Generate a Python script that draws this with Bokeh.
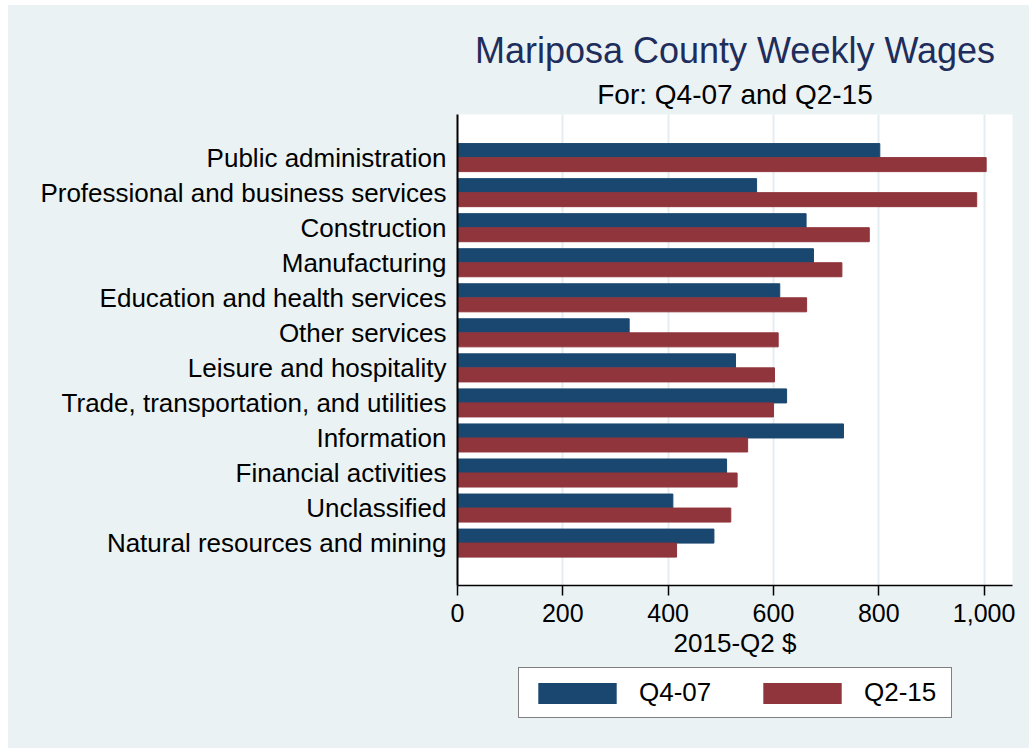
from bokeh.plotting import figure
from bokeh.layouts import column
from bokeh.models import (ColumnDataSource, Range1d, FixedTicker, NumeralTickFormatter,
                          Legend, LegendItem, Title)
from bokeh.embed import file_html
from bokeh.resources import INLINE

# ---- data ----
categories = ["Public administration", "Professional and business services", "Construction",
              "Manufacturing", "Education and health services", "Other services",
              "Leisure and hospitality", "Trade, transportation, and utilities", "Information",
              "Financial activities", "Unclassified", "Natural resources and mining"]
q4_07 = [802, 568, 662, 676, 612, 326, 528, 625, 733, 511, 409, 487]
q2_15 = [1004, 986, 782, 730, 663, 609, 602, 600, 551, 531, 519, 416]
series_names = ["Q4-07", "Q2-15"]
x_ticks = [0, 200, 400, 600, 800, 1000]

title_text = "Mariposa County Weekly Wages"
subtitle_text = "For: Q4-07 and Q2-15"
x_label = "2015-Q2 $"

BG = "#EAF2F3"
BLUE = "#1A476F"
RED = "#90353B"
FONT = "Liberation Sans"

n = len(categories)
pos = [n - 1 - i for i in range(n)]
src = ColumnDataSource(dict(
    cat=categories,
    y4=[p + 0.2 for p in pos],
    y2=[p - 0.2 for p in pos],
    q4=q4_07,
    q2=q2_15,
))

p = figure(width=1021, height=660, output_backend="svg", toolbar_location=None,
           x_range=Range1d(0, 1054), y_range=Range1d(-1.21, n - 1 + 1.23),
           min_border_left=449, min_border_right=17, min_border_top=109,
           min_border_bottom=80)
p.background_fill_color = "white"
p.border_fill_color = BG
p.outline_line_color = None

p.hbar(y="y4", right="q4", left=0, height=0.4, source=src,
       fill_color=BLUE, line_color=BLUE)
p.hbar(y="y2", right="q2", left=0, height=0.4, source=src,
       fill_color=RED, line_color=RED)

# x axis
xa = p.xaxis[0]
xa.ticker = FixedTicker(ticks=x_ticks)
xa.formatter = NumeralTickFormatter(format="0,0")
xa.axis_label = x_label
xa.axis_label_text_font = FONT
xa.axis_label_text_font_size = "26px"
xa.axis_label_text_font_style = "normal"
xa.axis_label_text_color = "black"
xa.axis_label_standoff = 3
xa.major_label_text_font = FONT
xa.major_label_text_font_size = "25px"
xa.major_label_text_color = "black"
xa.major_label_standoff = 8
xa.axis_line_color = "black"
xa.axis_line_width = 1.5
xa.major_tick_line_color = "black"
xa.major_tick_line_width = 1.5
xa.major_tick_out = 10
xa.major_tick_in = 0
xa.minor_tick_line_color = None

# y axis
ya = p.yaxis[0]
ya.ticker = FixedTicker(ticks=pos)
ya.major_label_overrides = {pp: c for pp, c in zip(pos, categories)}
ya.major_label_text_font = FONT
ya.major_label_text_font_size = "26px"
ya.major_label_text_color = "black"
ya.major_label_standoff = 5
ya.axis_line_color = "black"
ya.axis_line_width = 2
ya.major_tick_line_color = None
ya.minor_tick_line_color = None

p.xgrid.ticker = FixedTicker(ticks=x_ticks[1:])
p.xgrid.grid_line_color = "#E4EDF0"
p.xgrid.grid_line_width = 2
p.ygrid.grid_line_color = None

# titles (first added sits nearest the frame)
p.add_layout(Title(text=subtitle_text, align="center", text_font=FONT,
                   text_font_size="28px", text_font_style="normal",
                   text_color="black", standoff=9), "above")
p.add_layout(Title(text=title_text, align="center", text_font=FONT,
                   text_font_size="36px", text_font_style="normal",
                   text_color="#1F2D5C", standoff=3), "above")

# legend strip (its frame is aligned with the main frame by the column layout);
# its renderers share the data but lie far outside its visible range
lf = figure(width=1021, height=83, output_backend="svg", toolbar_location=None,
            x_range=Range1d(0, 1054), y_range=Range1d(100, 101),
            x_axis_type=None, y_axis_type=None,
            min_border_left=0, min_border_right=0, min_border_top=0, min_border_bottom=0)
lf.background_fill_color = BG
lf.border_fill_color = BG
lf.outline_line_color = None
lf.xgrid.grid_line_color = None
lf.ygrid.grid_line_color = None
k4 = lf.hbar(y="y4", right="q4", left=0, height=0.4, source=src,
             fill_color=BLUE, line_color=None)
k2 = lf.hbar(y="y2", right="q2", left=0, height=0.4, source=src,
             fill_color=RED, line_color=None)

legend = Legend(items=[LegendItem(label=series_names[0], renderers=[k4], index=0),
                       LegendItem(label=series_names[1], renderers=[k2], index=0)],
                orientation="horizontal", location=(61, 30),
                glyph_width=98, glyph_height=26, label_standoff=13, spacing=36,
                label_width=78, padding=9, margin=0,
                border_line_color="black", border_line_width=1.5,
                background_fill_color="white", background_fill_alpha=1,
                label_text_font=FONT, label_text_font_size="26px",
                label_text_color="black")
lf.add_layout(legend, "center")

layout = column(p, lf, spacing=0)
layout.margin = (5, 0, 0, 8)
layout.styles = {"background-color": BG}

open("out.html", "w").write(file_html(layout, INLINE))
